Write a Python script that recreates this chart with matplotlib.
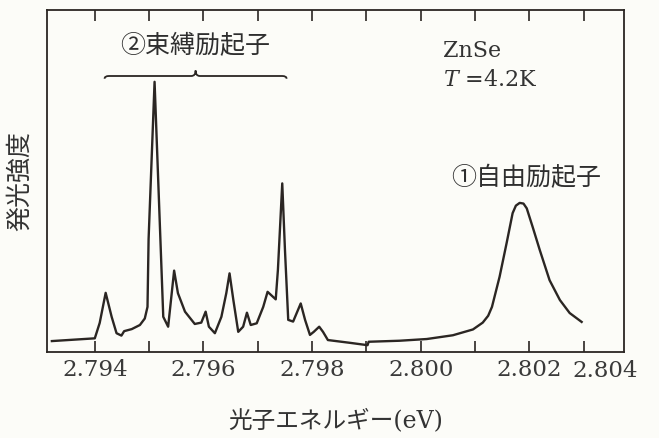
#!/usr/bin/env python3
"""ZnSe photoluminescence spectrum at 4.2 K (bound / free exciton lines)."""

import matplotlib
matplotlib.use("Agg")
import matplotlib.pyplot as plt
from matplotlib.path import Path
from matplotlib.patches import PathPatch
from matplotlib.ticker import FixedLocator


# photon energy (eV) and emission intensity (arb. units, 0-100 of the frame)
energy = [
    2.79321, 2.79400, 2.79409, 2.79420, 2.79431, 2.79440, 2.79449, 2.79454,
    2.79468, 2.79483, 2.79492, 2.79497, 2.79499, 2.79510, 2.79526, 2.79535,
    2.79546, 2.79553, 2.79566, 2.79584, 2.79596, 2.79604, 2.79610, 2.79621,
    2.79633, 2.79642, 2.79648, 2.79655, 2.79664, 2.79673, 2.79680, 2.79687,
    2.79698, 2.79710, 2.79718, 2.79733, 2.79737, 2.79745, 2.79750, 2.79756,
    2.79765, 2.79779, 2.79787, 2.79796, 2.79803, 2.79813, 2.79820, 2.79829,
    2.79869, 2.79902, 2.79904, 2.79961, 2.80011, 2.80059, 2.80096, 2.80114,
    2.80124, 2.80131, 2.80145, 2.80158, 2.80169, 2.80175, 2.80182, 2.80189,
    2.80195, 2.80206, 2.80219, 2.80237, 2.80256, 2.80274, 2.80296,
]
intensity = [
    3.2, 4.0, 8.5, 17.3, 10.3, 5.5, 4.8, 6.1,
    6.7, 7.9, 9.8, 13.2, 33.0, 79.0, 10.3, 7.4,
    23.8, 17.2, 11.8, 8.2, 8.6, 11.8, 7.4, 5.5,
    10.3, 17.2, 23.0, 15.2, 5.9, 7.4, 11.5, 7.9,
    8.4, 13.2, 17.6, 15.4, 24.0, 49.3, 29.8, 9.4,
    8.9, 14.2, 9.4, 5.0, 5.9, 7.4, 5.9, 3.5,
    2.7, 2.0, 3.0, 3.3, 3.8, 4.9, 6.6, 8.6,
    10.6, 13.2, 22.0, 31.9, 40.6, 42.8, 43.6, 43.4,
    42.0, 36.5, 29.8, 21.0, 15.2, 11.4, 8.8,
]

tick_values = [2.794, 2.795, 2.796, 2.797, 2.798, 2.799, 2.800, 2.801, 2.802, 2.803]
tick_labels = ["2.794", "", "2.796", "", "2.798", "", "2.800", "", "2.802", ""]
last_label = "2.804"

INK = "#2b2623"
PAPER = "#fcfcf8"
SERIF = ["DejaVu Serif", "Noto Sans CJK JP"]
CJK = ["Noto Sans CJK JP", "DejaVu Sans"]

plt.rcParams["mathtext.fontset"] = "dejavuserif"


def brace(axis, x0, x1, y, height, curl):
    # thin horizontal curly brace opening downwards
    xc = (x0 + x1) / 2
    verts = [(x0, y - height * 0.5), (x0, y), (x0 + curl, y),
             (xc - curl, y), (xc, y), (xc, y + height),
             (xc, y), (xc + curl, y),
             (x1 - curl, y), (x1, y), (x1, y - height * 0.5)]
    codes = [Path.MOVETO, Path.CURVE3, Path.CURVE3,
             Path.LINETO, Path.CURVE3, Path.CURVE3,
             Path.CURVE3, Path.CURVE3,
             Path.LINETO, Path.CURVE3, Path.CURVE3]
    axis.add_patch(PathPatch(Path(verts, codes), facecolor="none",
                             edgecolor=INK, linewidth=1.3))


def main():
    figure = plt.figure(figsize=(6.59, 4.38), dpi=100)
    figure.patch.set_facecolor(PAPER)
    axis = figure.add_axes([0.0713, 0.1963, 0.8756, 0.7809])
    axis.set_facecolor(PAPER)

    axis.plot(energy, intensity, color=INK, linewidth=1.7,
              solid_joinstyle="round")

    axis.set_xlim(2.79312, 2.80374)
    axis.set_ylim(0, 100)
    axis.set_yticks([])
    axis.xaxis.set_major_locator(FixedLocator(tick_values))
    axis.set_xticklabels(tick_labels)
    axis.tick_params(axis="x", direction="in", top=True, length=8, width=1.2,
                     color=INK, pad=5, labelsize=16.5, labelcolor="#3a3a3a")
    for label in axis.get_xticklabels():
        label.set_family(SERIF)
    axis.text(0.967, -0.022, last_label, transform=axis.transAxes,
              ha="center", va="top", fontsize=16.5, color="#3a3a3a", family=SERIF)
    for spine in axis.spines.values():
        spine.set_color(INK)
        spine.set_linewidth(1.3)

    axis.set_xlabel("光子エネルギー(eV)", fontsize=17, color="#333333",
                    family=SERIF)
    axis.xaxis.set_label_coords(0.501, -0.165)
    axis.set_ylabel("発光強度", fontsize=18, color="#333333", family=CJK)
    axis.yaxis.set_label_coords(-0.024, 0.5)

    brace(axis, 2.79418, 2.79753, 80.7, 1.6, 0.00008)
    axis.text(2.79584, 89.5, "②束縛励起子", fontsize=18, color="#2e2e2e",
              ha="center", va="center", family=CJK)
    axis.text(2.80193, 50.9, "①自由励起子", fontsize=18, color="#2e2e2e",
              ha="center", va="center", family=CJK)
    axis.text(2.80040, 88.1, "ZnSe", fontsize=16, color="#333333",
              ha="left", va="center", family=SERIF)
    axis.text(2.80040, 79.5, r"$T$ =4.2K", fontsize=16, color="#333333",
              ha="left", va="center", family=SERIF)

    figure.savefig("out.png", dpi=100, facecolor=figure.get_facecolor())
    plt.close(figure)


if __name__ == "__main__":
    main()
